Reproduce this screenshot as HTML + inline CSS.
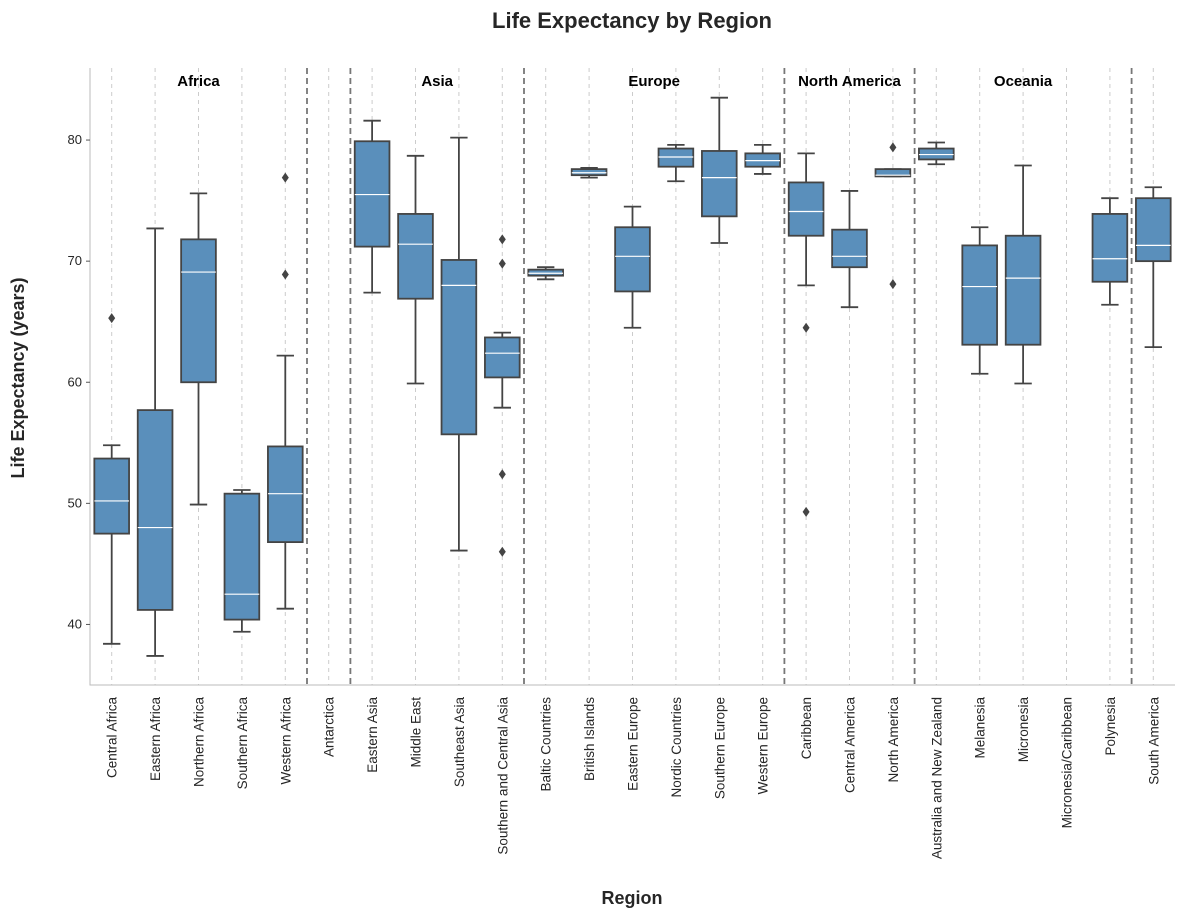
<!DOCTYPE html>
<html><head><meta charset="utf-8"><style>
body{margin:0;background:#fff;font-family:"Liberation Sans",Arial,sans-serif}
</style></head><body>
<svg id="chart" width="1185" height="918" xmlns="http://www.w3.org/2000/svg">
<text x="632" y="28" text-anchor="middle" font-size="22" font-weight="bold" fill="#262626">Life Expectancy by Region</text>
<text x="632" y="904" text-anchor="middle" font-size="18" font-weight="bold" fill="#262626">Region</text>
<text transform="translate(24,378) rotate(-90)" text-anchor="middle" font-size="18" font-weight="bold" fill="#262626">Life Expectancy (years)</text>
<g id="plot"></g>
</svg>
<script>
const categories=["Central Africa","Eastern Africa","Northern Africa","Southern Africa","Western Africa","Antarctica","Eastern Asia","Middle East","Southeast Asia","Southern and Central Asia","Baltic Countries","British Islands","Eastern Europe","Nordic Countries","Southern Europe","Western Europe","Caribbean","Central America","North America","Australia and New Zealand","Melanesia","Micronesia","Micronesia/Caribbean","Polynesia","South America"];
const whiskerLow=[38.4,37.4,49.9,39.4,41.3,null,67.4,59.9,46.1,57.9,68.5,76.9,64.5,76.6,71.5,77.2,68.0,66.2,77.0,78.0,60.7,59.9,null,66.4,62.9];
const q1=[47.5,41.2,60.0,40.4,46.8,null,71.2,66.9,55.7,60.4,68.8,77.1,67.5,77.8,73.7,77.8,72.1,69.5,77.0,78.4,63.1,63.1,null,68.3,70.0];
const medians=[50.2,48.0,69.1,42.5,50.8,null,75.5,71.4,68.0,62.4,69.0,77.3,70.4,78.6,76.9,78.3,74.1,70.4,77.1,78.8,67.9,68.6,null,70.2,71.3];
const q3=[53.7,57.7,71.8,50.8,54.7,null,79.9,73.9,70.1,63.7,69.3,77.6,72.8,79.3,79.1,78.9,76.5,72.6,77.6,79.3,71.3,72.1,null,73.9,75.2];
const whiskerHigh=[54.8,72.7,75.6,51.1,62.2,null,81.6,78.7,80.2,64.1,69.5,77.7,74.5,79.6,83.5,79.6,78.9,75.8,77.6,79.8,72.8,77.9,null,75.2,76.1];
const outliers=[[65.3],[],[],[],[68.9,76.9],[],[],[],[],[71.8,69.8,52.4,46.0],[],[],[],[],[],[],[64.5,49.3],[],[79.4,68.1],[],[],[],[],[],[]];
const groupNames=["Africa","Asia","Europe","North America","Oceania"];
const groupCenters=[2,7.5,12.5,17,21];
const separators=[4.5,5.5,9.5,15.5,18.5,23.5];
const yTicks=[40,50,60,70,80];

const L=90,R=1175,T=68,B=685,yMin=35,yMax=85.95;
const bw=(R-L)/categories.length;
const x=i=>L+(i+0.5)*bw;
const y=v=>B-(v-yMin)/(yMax-yMin)*(B-T);
const g=document.getElementById('plot');
const NS="http://www.w3.org/2000/svg";
function mk(t,a){const e=document.createElementNS(NS,t);for(const k in a)e.setAttribute(k,a[k]);g.appendChild(e);return e;}

categories.forEach((c,i)=>{
  const gl=mk('line',{x1:x(i),x2:x(i),y1:T,y2:B,stroke:'#cccccc','stroke-dasharray':'4,4','stroke-width':1});
  
  
});
separators.forEach(s=>{
  const l=mk('line',{x1:L+(s+0.5)*bw,x2:L+(s+0.5)*bw,y1:T,y2:B,stroke:'#777','stroke-dasharray':'6,4','stroke-width':1.8});
  
  
});
const ax=mk('path',{d:`M${L},${T}V${B}H${R}`,fill:'none',stroke:'#bbb','stroke-width':1});


yTicks.forEach(v=>{
  mk('line',{x1:L-4,x2:L,y1:y(v),y2:y(v),stroke:'#555'});
  const t=mk('text',{x:L-8,y:y(v)+4,'text-anchor':'end','font-size':13,fill:'#262626'});
  t.textContent=v;
  
  
});
categories.forEach((c,i)=>{
  const t=mk('text',{transform:`translate(${x(i)+5},${B+12}) rotate(-90)`,'text-anchor':'end','font-size':13.5,fill:'#262626'});
  t.textContent=c;
  
  
  if(q1[i]===null)return;
  const cx=x(i),hw=bw*0.4,cw=bw*0.2,st={stroke:'#444','stroke-width':1.8};
  mk('line',Object.assign({x1:cx,x2:cx,y1:y(whiskerLow[i]),y2:y(q1[i])},st));
  mk('line',Object.assign({x1:cx,x2:cx,y1:y(q3[i]),y2:y(whiskerHigh[i])},st));
  mk('line',Object.assign({x1:cx-cw,x2:cx+cw,y1:y(whiskerLow[i]),y2:y(whiskerLow[i])},st));
  mk('line',Object.assign({x1:cx-cw,x2:cx+cw,y1:y(whiskerHigh[i]),y2:y(whiskerHigh[i])},st));
  const b=mk('rect',Object.assign({x:cx-hw,width:hw*2,y:y(q3[i]),height:Math.max(1,y(q1[i])-y(q3[i])),fill:'#5a8fbb'},st));
  
  
  mk('line',{x1:cx-hw,x2:cx+hw,y1:y(medians[i]),y2:y(medians[i]),stroke:'#fff','stroke-width':1.2});
  outliers[i].forEach(o=>{
    const p=mk('path',{d:`M${cx},${y(o)-5}L${cx+3.5},${y(o)}L${cx},${y(o)+5}L${cx-3.5},${y(o)}Z`,fill:'#444'});
    
    
  });
});
groupNames.forEach((n,i)=>{
  const t=mk('text',{x:x(groupCenters[i]),y:86,'text-anchor':'middle','font-size':15,'font-weight':'bold',fill:'#000'});
  t.textContent=n;
  
  
});
</script>
</body></html>
